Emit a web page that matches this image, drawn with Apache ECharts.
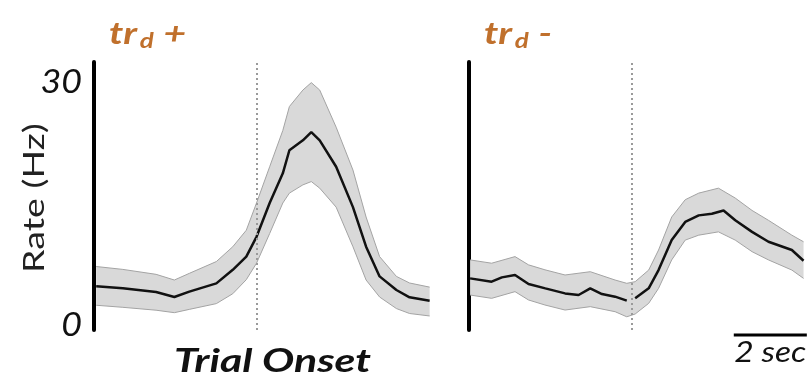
<!DOCTYPE html>
<html>
<head>
<meta charset="utf-8">
<script src="https://cdn.jsdelivr.net/npm/echarts@6/dist/echarts.min.js"></script>
<style>
  html, body { margin: 0; padding: 0; background: #fff; }
  #chart { width: 812px; height: 381px; }
</style>
</head>
<body>
<div id="chart"></div>
<script>
// time in seconds relative to trial onset, rate in Hz
const timeLeft = [-4.39, -3.66, -2.75, -2.25, -1.84, -1.10, -0.65, -0.28, 0, 0.36, 0.72, 0.90, 1.27, 1.50, 1.73, 2.18, 2.64, 3.0, 3.37, 3.83, 4.19, 4.74];
const meanLeft = [5.3, 5.05, 4.6, 4.0, 4.65, 5.65, 7.3, 8.9, 11.3, 15.4, 19.0, 21.8, 23.0, 24.0, 23.0, 19.8, 14.9, 10.1, 6.5, 4.85, 3.96, 3.55];
const upperLeft = [7.7, 7.35, 6.75, 6.06, 6.87, 8.3, 10.1, 12.1, 15.4, 19.8, 24.2, 27.1, 29.1, 30.0, 29.1, 24.6, 19.4, 13.7, 8.9, 6.5, 5.7, 5.2];
const lowerLeft = [3.0, 2.75, 2.4, 2.1, 2.5, 3.2, 4.4, 6.1, 8.1, 11.7, 15.4, 16.6, 17.6, 18.0, 17.2, 14.9, 10.1, 6.06, 4.0, 2.6, 2.0, 1.7];

const timeRightMean = [-4.42, -3.83, -3.55, -3.19, -2.82, -2.36, -1.82, -1.45, -1.13, -0.81, -0.45, -0.13, 0, 0.10, 0.47, 0.74, 1.10, 1.47, 1.84, 2.20, 2.52, 2.84, 3.30, 3.75, 4.39, 4.71];
const meanRight = [6.26, 5.86, 6.38, 6.67, 5.58, 5.05, 4.44, 4.24, 5.05, 4.36, 4.04, 3.56, null, 3.84, 5.05, 7.27, 10.9, 13.1, 13.9, 14.1, 14.5, 13.3, 11.9, 10.7, 9.7, 8.4];
const timeRightBand = [-4.42, -3.83, -3.19, -2.82, -2.37, -1.82, -1.13, -0.45, -0.13, 0.10, 0.47, 0.74, 1.10, 1.47, 1.84, 2.38, 2.84, 3.30, 3.75, 4.39, 4.71];
const upperRight = [8.5, 8.1, 8.9, 7.9, 7.3, 6.67, 7.07, 6.06, 5.66, 5.86, 7.27, 9.7, 13.7, 15.8, 16.6, 17.2, 16.0, 14.5, 13.3, 11.5, 10.7];
const lowerRight = [4.24, 3.84, 4.65, 3.64, 3.03, 2.42, 2.83, 2.22, 1.6, 1.94, 3.23, 5.05, 8.5, 10.9, 11.5, 11.9, 10.9, 9.5, 8.5, 7.27, 6.26];

const yTicks = [0, 30];
const panelTitles = ['+', '-'];
const scaleBarSec = 2;

const FONT = 'Lato, "Open Sans", sans-serif';
const orange = '#c0702c';
// the source figure is stretched sideways, so text gets a horizontal scale
const STRETCH = 1.3;

const chart = echarts.init(document.getElementById('chart'));

const pairs = (xs, ys) => xs.map((x, i) => [x, ys[i]]);

// shaded error band drawn as one polygon between lower and upper
const bandSeries = (idx, xs, lo, hi) => ({
  type: 'custom',
  xAxisIndex: idx,
  yAxisIndex: idx,
  silent: true,
  z: 2,
  data: xs.map((x, i) => [x, lo[i], hi[i]]),
  encode: { x: 0, y: [1, 2] },
  renderItem: (params, api) => {
    if (params.dataIndex !== 0) return null;
    const top = xs.map((x, i) => api.coord([x, hi[i]]));
    const bot = xs.map((x, i) => api.coord([x, lo[i]]));
    return {
      type: 'group',
      children: [
        {
          type: 'polygon',
          shape: { points: top.concat(bot.slice().reverse()) },
          style: { fill: '#d9d9d9', stroke: null },
        },
        { type: 'polyline', shape: { points: top }, style: { stroke: '#a3a3a3', lineWidth: 1, fill: null } },
        { type: 'polyline', shape: { points: bot }, style: { stroke: '#a3a3a3', lineWidth: 1, fill: null } },
      ],
    };
  },
});

const onsetSeries = idx => ({
  type: 'line',
  xAxisIndex: idx,
  yAxisIndex: idx,
  data: [],
  z: 3,
  markLine: {
    silent: true,
    symbol: 'none',
    label: { show: false },
    lineStyle: { color: '#9a9a9a', type: [2, 3], width: 2 },
    data: [{ xAxis: 0 }],
  },
});

const meanSeries = (idx, xs, ys) => ({
  type: 'line',
  xAxisIndex: idx,
  yAxisIndex: idx,
  symbol: 'none',
  data: pairs(xs, ys),
  connectNulls: false,
  lineStyle: { color: '#111', width: 2.5 },
  z: 4,
});

const xAxis = idx => ({
  type: 'value',
  gridIndex: idx,
  min: -4.45,
  max: 4.75,
  show: false,
});

const yAxis = idx => ({
  type: 'value',
  gridIndex: idx,
  min: 0,
  max: 32.5,
  interval: 30,
  splitLine: { show: false },
  axisTick: { show: false },
  axisLabel: { show: false },
  axisLine: { show: true, onZero: false, lineStyle: { color: '#000', width: 4 } },
});

chart.setOption({
  animation: false,
  grid: [
    { left: 94, top: 62, width: 336, height: 268 },
    { left: 469, top: 62, width: 336, height: 268 },
  ],
  xAxis: [xAxis(0), xAxis(1)],
  yAxis: [yAxis(0), yAxis(1)],
  series: [
    bandSeries(0, timeLeft, lowerLeft, upperLeft),
    onsetSeries(0),
    meanSeries(0, timeLeft, meanLeft),
    bandSeries(1, timeRightBand, lowerRight, upperRight),
    onsetSeries(1),
    meanSeries(1, timeRightMean, meanRight),
  ],
});

// text and the scale bar, placed from the axes
const axisX = [chart.convertToPixel({ xAxisIndex: 0 }, -4.45), chart.convertToPixel({ xAxisIndex: 1 }, -4.45)];
const onsetX = chart.convertToPixel({ xAxisIndex: 0 }, 0);
const baseY = chart.convertToPixel({ yAxisIndex: 1 }, 0);
const midY = chart.convertToPixel({ yAxisIndex: 0 }, 16);
const barEnd = chart.convertToPixel({ xAxisIndex: 1 }, 4.8);
const barStart = chart.convertToPixel({ xAxisIndex: 1 }, 4.8 - scaleBarSec);

const titleRich = {
  a: { fontFamily: FONT, fontSize: 30, fontWeight: 'bold', fontStyle: 'italic', fill: orange },
  d: { fontFamily: FONT, fontSize: 20, fontWeight: 'bold', fontStyle: 'italic', fill: orange, padding: [16, 1, 0, 2] },
};

const graphics = [];
panelTitles.forEach((t, i) => {
  graphics.push({
    type: 'text',
    x: axisX[i] + 15,
    y: 16,
    scaleX: STRETCH,
    style: { text: '{a|tr}{d|d}{a| ' + t + '}', rich: titleRich, verticalAlign: 'top' },
  });
});
yTicks.forEach(v => {
  graphics.push({
    type: 'text',
    x: axisX[0] - 12,
    y: chart.convertToPixel({ yAxisIndex: 0 }, v) - (v === 0 ? 4 : 0),
    scaleX: 1.12,
    style: {
      text: String(v),
      fontFamily: FONT,
      fontSize: 32,
      fontStyle: 'italic',
      fill: '#111',
      align: 'right',
      verticalAlign: 'middle',
    },
  });
});
graphics.push(
  {
    type: 'text',
    x: 35,
    y: midY,
    rotation: Math.PI / 2,
    scaleX: 1.34,
    style: {
      text: 'Rate (Hz)',
      fontFamily: FONT,
      fontSize: 28,
      fill: '#222',
      align: 'center',
      verticalAlign: 'middle',
    },
  },
  {
    type: 'text',
    x: onsetX + 16,
    y: baseY + 31,
    scaleX: 1.3,
    style: {
      text: 'Trial Onset',
      fontFamily: FONT,
      fontSize: 33,
      fontWeight: 'bold',
      fontStyle: 'italic',
      fill: '#111',
      align: 'center',
      verticalAlign: 'middle',
    },
  },
  {
    type: 'line',
    shape: { x1: barStart, y1: baseY + 5, x2: barEnd, y2: baseY + 5 },
    style: { stroke: '#000', lineWidth: 3 },
  },
  {
    type: 'text',
    x: (barStart + barEnd) / 2,
    y: baseY + 23,
    scaleX: 1.2,
    style: {
      text: scaleBarSec + ' sec',
      fontFamily: FONT,
      fontSize: 28,
      fontStyle: 'italic',
      fill: '#111',
      align: 'center',
      verticalAlign: 'middle',
    },
  }
);

chart.setOption({ graphic: graphics });
</script>
</body>
</html>
